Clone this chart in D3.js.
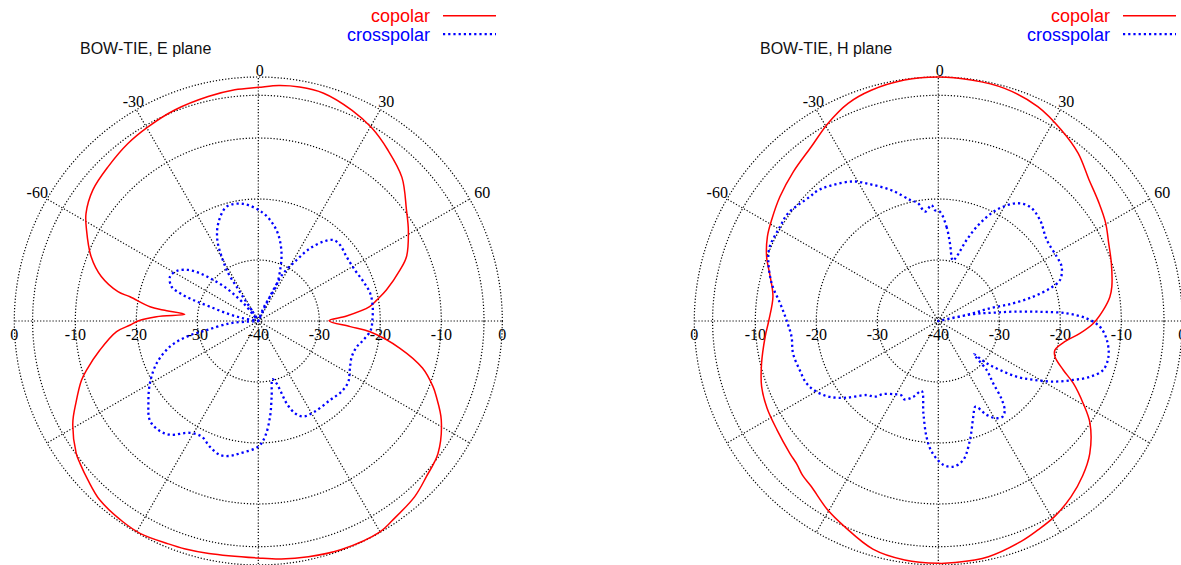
<!DOCTYPE html>
<html>
<head>
<meta charset="utf-8">
<script src="https://cdn.jsdelivr.net/npm/d3@7"></script>
<style>
  body { margin: 0; background: #fff; }
  svg { display: block; }
</style>
</head>
<body>
<svg id="chart" width="1181" height="565"></svg>
<script>
// ---- Radiation patterns of the bow-tie antenna (angle in degrees, level in dB) ----

// E plane, copolar
const eCoAngle = [0, 5, 10, 16, 24, 30.5, 37, 45, 53, 59, 66.5, 70.2, 76.4, 80, 82.7, 86.8, 89.7,
  93.5, 95.5, 100.9, 106, 110.6, 113, 118.4, 126.4, 132.8, 138.3, 146.2, 150, 160, 168, 174.5, 180,
  192, 198, 202, 209, 214, 221.5, 227, 231.4, 234, 241.2, 246, 251.4, 254.1, 259.6, 265.7, 268.2, 270,
  272.4, 275.2, 276.6, 277.5, 280.7, 281.8, 285.8, 291, 298, 302, 308.4, 315.8, 323.7, 330.4, 338.4,
  347.4, 354.2];
const eCoDb = [-1.7, -1.25, -1.05, -1.15, -2.2, -3.3, -4.8, -6.7, -9.6, -11.3, -13.5, -15.3, -18.4, -20.3, -21.6, -25.5, -28.4,
  -24.9, -21.6, -16.35, -12, -9.4, -8.3, -5.9, -3.4, -2.45, -1.45, -0.6, -0.1, -0.15, -0.5, -0.8, -1.15,
  -1.05, -0.75, -0.6, -0.16, -0.3, -0.8, -1.8, -2.6, -3.1, -5.3, -7.3, -9.4, -10.75, -13.6, -16.7, -19, -20.3,
  -23.3, -27.9, -24.3, -22.1, -18.6, -16.5, -13.25, -10.65, -8.1, -6.7, -5.4, -4.7, -3.9, -3.4, -2.8,
  -2.3, -1.9];

// E plane, crosspolar (in trace order; lobes meet at the -40 dB centre)
const eCrossAngle = [-35, -31.2, -32.4, -32.3, -32.2, -29.7, -26.8, -22.3, -15.5, -7.3, 1.7, 7.6, 13.1, 19, 23.7, 27, 25.6, 21.5,
  24, 25.3, 25.8, 27.7, 32.1, 35.4, 39.3, 42.8, 47.1, 53.9, 62.2, 69.5, 76.1, 82.9, 89.5, 94.6, 100.3, 104.6,
  110.9, 118.1, 124, 130.3, 137.8, 148, 154.8, 158.3, 161, 162.1, 163.6, 166.2, 170, 173, 176.7, 180, 187.9,
  191.9, 196, 201, 206.1, 211.5, 217.8, 222.5, 227.6, 233.2, 240.1, 247.4, 253.8, 257.7, 260, 265.3, 266.7,
  270, 280.1, 283.6, 286.5, 287.9, 289.5, 291.6, 296.7, 301.5, 306.1, 309.3, 312.3, 315.9, 318.3, 320.9, 320.2];
const eCrossDb = [-40, -37.9, -35.9, -33.3, -30.8, -27.9, -25.1, -22.7, -20.55, -20.65, -22.1, -23.6, -25.5, -28.3, -31.2, -33.4, -35.6, -37.8,
  -40, -36.8, -34.4, -31.2, -28.2, -25.4, -23.2, -21.9, -21.7, -22.1, -22.1, -21.6, -21.1, -21.1, -21.3, -21.5, -22.5, -23.3,
  -23.6, -23, -22.2, -22.1, -22.5, -22.5, -22.7, -23.7, -25.7, -27.5, -29.3, -30.2, -27.4, -24.2, -21, -19.4, -18.1,
  -17.4, -17.15, -17.9, -18.9, -18.5, -16.4, -15.75, -15.9, -17.5, -19.5, -21.95, -24.9, -28, -31.4, -35.3, -38.1,
  -40, -37.5, -34.7, -31.7, -28.8, -26.4, -24.7, -23.8, -24.3, -25.8, -27.65, -30, -32.5, -34.7, -37, -38.7];

// H plane, copolar
const hCoAngle = [0, 7.8, 15.9, 24.9, 32.8, 39.8, 46.7, 53.6, 59.6, 65.5, 71.6, 78.8, 82, 86.2, 90.9, 95, 99.3,
  104, 107, 111.4, 114.8, 119.6, 124, 131.2, 137, 142.9, 149.3, 154.5, 159.4, 168, 176, 180, 188, 196,
  204.5, 210.3, 217.5, 221.3, 224.6, 228.3, 236, 243, 249.6, 256.5, 264.8, 270, 278.4, 284.8, 290.5,
  296.3, 301.2, 308.1, 315.8, 323.9, 330.8, 337.5, 343.8, 352];
const hCoDb = [0, -0.13, -0.34, -1.26, -2.76, -4.2, -6.1, -7.3, -8.2, -9.3, -10.1, -11.0, -11.6, -12.9, -14.6, -16.7, -19.0,
  -20.3, -20.0, -18.0, -15.6, -12.7, -10.0, -7.0, -5.3, -3.9, -2.7, -2.05, -1.4, -0.5, -0.3, -0.27, -0.44, -1.1,
  -2.95, -4.1, -5.8, -6.3, -7.0, -7.4, -8.1, -8.5, -9.1, -10.2, -11.5, -12.2, -12.6, -11.5, -9.95,
  -8.75, -8.05, -7.0, -5.9, -4.65, -2.9, -1.37, -0.6, -0.1];

// H plane, crosspolar (in trace order)
const hCrossAngle = [0.9, 5, 8.5, 13.5, 15.9, 19.3, 23.1, 27.7, 33.7, 38.7, 45.2, 53.2, 61.5, 66.2, 71.4, 73.7, 75.6,
  76.7, 76.2, 78, 77, 78.7, 81.4, 82.9, 84.8, 86.6, 89, 92, 96.4, 101.8, 106.5, 110.2, 113.6, 117.8, 121.8,
  125.4, 128.5, 131.2, 133, 135.4, 138.6, 141, 143.5, 146, 149, 152.8, 156.5, 159.9, 165, 169.8, 174.1, 178,
  182.9, 185.8, 189.2, 193.4, 198.3, 203.3, 206.5, 211, 217, 220, 224.1, 230.1, 235, 239.9, 244.7, 250.5,
  257.4, 263.9, 270.4, 276.4, 282.7, 289.7, 293.8, 300.8, 305.6, 314.1, 317.4, 321.3, 328.6, 334.5, 340.8,
  346.8, 350.2, 353, 356.7, 358.1];
const hCrossDb = [-22.1, -24.5, -27.1, -29.8, -29.0, -25.9, -22.6, -19.4, -16.8, -16.0, -16.5, -17.8, -17.9, -17.9, -18.95, -20.9, -23.9,
  -27.4, -31.3, -35.25, -40, -34.2, -30.9, -27.6, -23.3, -18.9, -15.7, -13.5, -12.2, -11.5, -11.8, -13.5, -15.85, -18.7, -21.7,
  -24.25, -27.1, -29.5, -32, -28.7, -26.4, -23.5, -21.7, -21.1, -21.4, -22.7, -24.7, -23.3, -19.9, -16.85, -16.0, -16.4,
  -18.55, -20.9, -24.7, -28.2, -26.9, -26.0, -26.4, -26.0, -25.0, -23.8, -23.1, -20.4, -18.3, -16.9, -16.1, -15.9,
  -15.6, -15.8, -15.1, -13.9, -12.0, -10.4, -9.8, -9.8, -9.7, -10.7, -10.9, -11.6, -13.2, -15.3, -17.4,
  -19.6, -20.4, -21.95, -20.95, -21.8];

// Grid and tick definitions
const ringDb = [-39.5, -30, -20, -10, -3, 0];
const spokeAngles = d3.range(0, 360, 30);
const angleTickLabels = [-60, -30, 0, 30, 60];
const radialTickDb = [0, -10, -20, -30, -40];
const seriesNames = ["copolar", "crosspolar"];
const panelTitles = ["BOW-TIE, E plane", "BOW-TIE, H plane"];

// ---- drawing ----
const svg = d3.select("#chart");
svg.append("rect").attr("width", 1181).attr("height", 565).attr("fill", "#fff");

const R = 244;
const cy = 321;
const radius = d3.scaleLinear().domain([-40, 0]).range([0, R]).clamp(true);
const theta = d3.scaleLinear().domain([0, 360]).range([0, 2 * Math.PI]);

const serif = "'Liberation Serif', 'Times New Roman', serif";
const sans = "'Liberation Sans', Arial, Helvetica, sans-serif";
const gridStroke = "#000";

const pairs = (angles, dbs) => angles.map((d, i) => [d, dbs[i]]);

const radialLine = d3.lineRadial()
  .angle(d => theta(d[0]))
  .radius(d => radius(d[1]))
  .curve(d3.curveCatmullRomClosed.alpha(0.5));

const styles = {
  copolar: { stroke: "#ff0000", width: 1.5, dash: null },
  crosspolar: { stroke: "#0000ff", width: 2.3, dash: "2.2,3" }
};

const panels = [
  { cx: 258.3, title: panelTitles[0], co: pairs(eCoAngle, eCoDb), cross: pairs(eCrossAngle, eCrossDb) },
  { cx: 938.3, title: panelTitles[1], co: pairs(hCoAngle, hCoDb), cross: pairs(hCrossAngle, hCrossDb) }
];

panels.forEach(p => {
  const g = svg.append("g").attr("transform", `translate(${p.cx},${cy})`);

  // rings
  g.selectAll("circle.ring").data(ringDb).join("circle")
    .attr("class", "ring")
    .attr("r", d => radius(d))
    .attr("fill", "none")
    .attr("stroke", gridStroke)
    .attr("stroke-width", 1.2)
    .attr("stroke-dasharray", "1.2,1.9");

  // spokes
  g.selectAll("line.spoke").data(spokeAngles).join("line")
    .attr("class", "spoke")
    .attr("x1", 0).attr("y1", 0)
    .attr("x2", d => radius(0) * Math.sin(theta(d)))
    .attr("y2", d => -radius(0) * Math.cos(theta(d)))
    .attr("stroke", gridStroke)
    .attr("stroke-width", 1.2)
    .attr("stroke-dasharray", "1.2,1.9");

  // angle tick labels
  const labelRadius = d => radius(0) + (Math.abs(d) > 45 ? 13 : (d === 0 ? 7 : 9));
  g.selectAll("text.atick").data(angleTickLabels).join("text")
    .attr("class", "atick")
    .attr("x", d => labelRadius(d) * Math.sin(theta(d)) + 1.5)
    .attr("y", d => -labelRadius(d) * Math.cos(theta(d)))
    .attr("text-anchor", "middle")
    .attr("dominant-baseline", "central")
    .attr("font-family", serif)
    .attr("font-size", 16)
    .attr("fill", "#000")
    .text(d => d);

  // radial (dB) tick labels along the horizontal axis
  const rTicks = [];
  radialTickDb.forEach(db => {
    rTicks.push({ db, x: -radius(db) });
    if (db !== -40) rTicks.push({ db, x: radius(db) });
  });
  g.selectAll("text.rtick").data(rTicks).join("text")
    .attr("class", "rtick")
    .attr("x", d => d.x)
    .attr("y", 19)
    .attr("text-anchor", "middle")
    .attr("font-family", serif)
    .attr("font-size", 16)
    .attr("fill", "#000")
    .text(d => d.db);

  // pattern curves
  g.append("path")
    .attr("d", radialLine(p.co))
    .attr("fill", "none")
    .attr("stroke", styles.copolar.stroke)
    .attr("stroke-width", styles.copolar.width)
    .attr("stroke-linejoin", "round");

  g.append("path")
    .attr("d", radialLine(p.cross))
    .attr("fill", "none")
    .attr("stroke", styles.crosspolar.stroke)
    .attr("stroke-width", styles.crosspolar.width)
    .attr("stroke-dasharray", styles.crosspolar.dash);

  // title
  svg.append("text")
    .attr("x", p.cx - 178.3)
    .attr("y", 54)
    .attr("font-family", sans)
    .attr("font-size", 16)
    .attr("fill", "#111")
    .text(p.title);

  // legend
  const lg = svg.append("g").attr("transform", `translate(${p.cx},0)`);
  seriesNames.forEach((name, i) => {
    const st = styles[name];
    lg.append("text")
      .attr("x", 171.7)
      .attr("y", 21.5 + i * 19)
      .attr("text-anchor", "end")
      .attr("font-family", sans)
      .attr("font-size", 18)
      .attr("fill", st.stroke)
      .text(name);
    lg.append("line")
      .attr("x1", 184.7).attr("x2", 237.7)
      .attr("y1", 15.7 + i * 18.5).attr("y2", 15.7 + i * 18.5)
      .attr("stroke", st.stroke)
      .attr("stroke-width", st.width)
      .attr("stroke-dasharray", st.dash);
  });
});
</script>
</body>
</html>
